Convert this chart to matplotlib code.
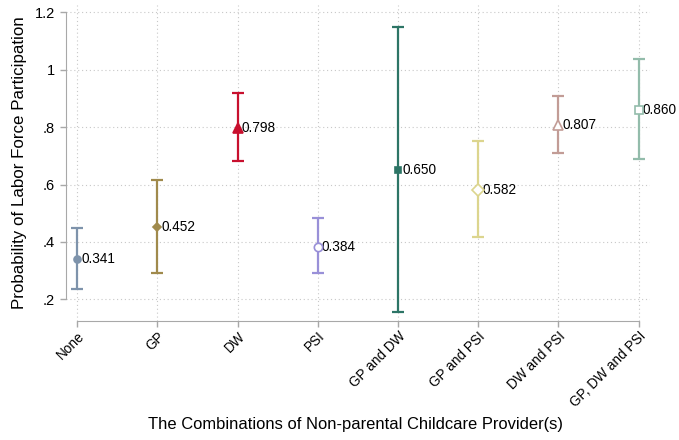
import numpy as np
import matplotlib.pyplot as plt

plt.rcParams['font.family'] = ['Liberation Sans', 'DejaVu Sans']

groups = ['None', 'GP', 'DW', 'PSI', 'GP and DW', 'GP and PSI', 'DW and PSI', 'GP, DW and PSI']
prob = [0.341, 0.452, 0.798, 0.384, 0.650, 0.582, 0.807, 0.860]
lower = [0.238, 0.293, 0.683, 0.291, 0.158, 0.417, 0.711, 0.688]
upper = [0.448, 0.615, 0.920, 0.483, 1.148, 0.752, 0.909, 1.037]

colors = ['#7e93ab', '#a08a4c', '#c8102e', '#9990d8', '#2d7566', '#dcd58e', '#c29c96', '#93bcab']
markers = ['o', 'D', '^', 'o', 's', 'D', '^', 's']
filled = [True, True, True, False, True, False, False, False]
msizes = [5, 4.5, 7, 6, 5, 6, 7, 6]

fig = plt.figure(figsize=(6.79, 4.40), dpi=100)
ax = fig.add_axes([0.0972, 0.2705, 0.8598, 0.7181])

x = np.arange(len(groups))
for i in range(len(groups)):
    err = [[prob[i] - lower[i]], [upper[i] - prob[i]]]
    ax.errorbar(x[i], prob[i], yerr=err, color=colors[i], fmt='none',
                elinewidth=1.6, capsize=4.5, capthick=1.6, zorder=3)
    ax.plot(x[i], prob[i], marker=markers[i], markersize=msizes[i],
            color=colors[i], markerfacecolor=colors[i] if filled[i] else 'white',
            markeredgewidth=1.2, zorder=4)
    ax.annotate('%.3f' % prob[i], (x[i], prob[i]), xytext=(3, 0),
                textcoords='offset points', va='center', ha='left', fontsize=9.8)

ax.set_xlim(-0.14, 7.14)
ax.set_ylim(0.125, 1.225)
ax.set_xticks(x)
ax.set_xticklabels(groups, rotation=45, ha='right', rotation_mode='anchor', fontsize=9.8)
ax.set_yticks([0.2, 0.4, 0.6, 0.8, 1.0, 1.2])
ax.set_yticklabels(['.2', '.4', '.6', '.8', '1', '1.2'], fontsize=10.5)

ax.grid(True, linestyle=(0, (1, 2.5)), color='#c8c8c8', linewidth=0.8)
ax.set_axisbelow(True)

for s in ['top', 'right']:
    ax.spines[s].set_visible(False)
ax.spines['left'].set_bounds(0.2, 1.2)
ax.spines['bottom'].set_bounds(0, 7)
ax.spines['left'].set_color('#a8a8a8')
ax.spines['bottom'].set_color('#a8a8a8')
ax.tick_params(axis='both', color='#a8a8a8', length=4.3, width=1)
ax.tick_params(axis='x', pad=1.5)

ax.set_ylabel('Probability of Labor Force Participation', fontsize=12.2, labelpad=6)
fig.text(0.524, 1 - 424 / 440, 'The Combinations of Non-parental Childcare Provider(s)',
         fontsize=11.9, ha='center', va='center')

fig.savefig('out.png', dpi=100)
